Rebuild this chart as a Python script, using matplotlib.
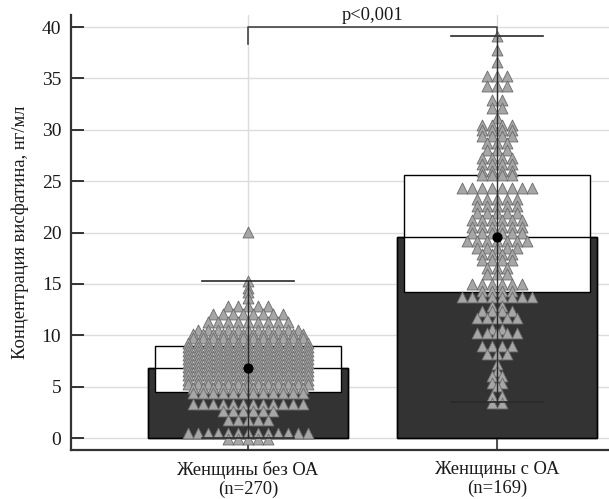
#!/usr/bin/env python
# -*- coding: utf-8 -*-

"""
Visfatin concentration in women with and without OA:
bar = mean, white box = IQR, whiskers, swarm of individual values
"""

import matplotlib
matplotlib.use('Agg')
import matplotlib.pyplot as plt
import numpy as np

#==============================================================================
# data
#==============================================================================
groups = ['Женщины без ОА\n(n=270)', 'Женщины с ОА\n(n=169)']

means = [6.8, 19.6]
q1 = [4.5, 14.2]
q3 = [9.0, 25.6]
whisk_lo = [0.0, 3.5]
whisk_hi = [15.3, 39.1]

# swarm rows: value level and how many points sit on it
g1_levels = [20.1, 15.3, 14.6, 14.2, 13.6, 12.9, 12.1, 11.3, 10.5, 10.1, 9.7,
             9.3, 8.9, 8.5, 8.1, 7.7, 7.3, 6.9, 6.5, 6.1, 5.7, 5.3, 4.9, 4.4,
             3.3, 2.6, 1.8, 0.5, -0.1]
g1_counts = [1, 1, 1, 1, 1, 5, 8, 9, 11, 12, 12,
             13, 13, 13, 13, 13, 13, 13, 13, 13, 13, 13, 12, 12,
             12, 6, 5, 13, 5]

g2_levels = [39.1, 37.8, 36.6, 35.2, 34.3, 32.9, 32.1, 31.2, 30.5, 30.0, 29.4,
             28.7, 28.0, 27.3, 26.7, 26.0, 25.6, 24.3, 23.3, 22.6, 21.9, 21.2,
             20.5, 20.0, 19.2, 18.5, 17.9, 17.3, 16.6, 16.0, 15.0, 14.3, 13.7,
             12.9, 12.4, 11.7, 10.6, 10.2, 9.0, 8.2, 7.2, 6.5, 6.0, 5.4, 5.1,
             4.1, 3.4]
g2_counts = [1, 1, 1, 3, 3, 2, 2, 1, 4, 4, 4,
             3, 3, 4, 4, 4, 4, 8, 5, 5, 5, 6,
             6, 6, 7, 5, 4, 4, 3, 3, 6, 4, 8,
             2, 4, 5, 2, 5, 4, 3, 1, 1, 2, 2, 1,
             2, 2]

p_text = 'p<0,001'
ylabel = 'Концентрация висфатина, нг/мл'

#==============================================================================
# plot
#==============================================================================
plt.rcParams['font.family'] = ['Liberation Serif', 'DejaVu Serif']

fig = plt.figure(figsize=(6.09, 4.99), dpi=100)
ax = fig.add_axes([0.1166, 0.098, 0.8834, 0.872])

x = np.arange(len(groups))
bar_w = 0.80
box_w = 0.75
cap = 0.185
dx = 0.04   # horizontal step between neighbouring markers in a row

dark = '#333333'
ax.bar(x, means, width=bar_w, color=dark, edgecolor='black', linewidth=1.0, zorder=2)
ax.bar(x, np.array(q3) - np.array(q1), bottom=q1, width=box_w, color='white',
       edgecolor='black', linewidth=1.0, zorder=3)
# outline of the mean bar on top of the white box
ax.bar(x, means, width=bar_w, color='none', edgecolor='black', linewidth=1.0, zorder=4)

for xi, levels, counts in [(x[0], g1_levels, g1_counts), (x[1], g2_levels, g2_counts)]:
    xs = []
    ys = []
    for lv, n in zip(levels, counts):
        off = (np.arange(n) - (n - 1) / 2.0) * dx
        xs.extend(xi + off)
        ys.extend([lv] * n)
    ax.scatter(xs, ys, marker='^', s=62, facecolor='#a6a6a6', edgecolor='#6a6a6a',
               linewidth=0.6, zorder=5)

for i in range(len(groups)):
    ax.plot([x[i], x[i]], [whisk_lo[i], whisk_hi[i]], color='#2a2a2a', lw=1.0, zorder=6)
    ax.plot([x[i] - cap, x[i] + cap], [whisk_hi[i], whisk_hi[i]], color='#2a2a2a', lw=1.2, zorder=6)
    ax.plot([x[i] - cap, x[i] + cap], [whisk_lo[i], whisk_lo[i]], color='#2a2a2a', lw=1.2, zorder=6)

ax.scatter(x, means, marker='o', s=40, color='black', zorder=7)

# significance bracket
ax.plot([x[0], x[0], x[1], x[1]], [38.4, 40.0, 40.0, 39.1], color='#444444', lw=1.2,
        zorder=6, clip_on=False)
ax.text((x[0] + x[1]) / 2.0, 40.3, p_text, ha='center', va='bottom', fontsize=13.3,
        color='#1a1a1a', clip_on=False)

#==============================================================================
# axes
#==============================================================================
ax.set_xlim(-0.711, 1.45)
ax.set_ylim(-1.17, 41.18)
ax.set_yticks(np.arange(0, 41, 5))
ax.set_xticks(x)
ax.set_xticklabels(groups, fontsize=13.4, color='#1a1a1a', linespacing=1.1)
ax.set_ylabel(ylabel, fontsize=13.3, color='#1a1a1a', labelpad=9)

ax.grid(True, color='#dcdcdc', lw=1.0, zorder=0)
ax.set_axisbelow(True)

for s in ['top', 'right']:
    ax.spines[s].set_visible(False)
for s in ['left', 'bottom']:
    ax.spines[s].set_linewidth(1.6)
    ax.spines[s].set_color('#333333')

ax.tick_params(axis='y', direction='in', length=9, width=1.4, color='#333333',
               labelsize=14, pad=7, labelcolor='#1a1a1a')
ax.tick_params(axis='x', direction='in', length=9, width=1.2, color='#333333', pad=8)

fig.savefig('out.png', dpi=100)
plt.close()
print('Wrote: out.png')
